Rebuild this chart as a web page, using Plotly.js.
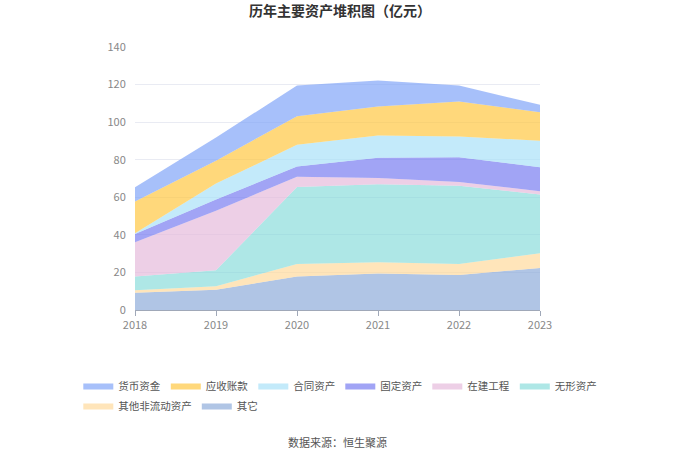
<!DOCTYPE html>
<html><head><meta charset="utf-8">
<script src="https://cdn.plot.ly/plotly-3.0.1.min.js"></script>
<style>html,body{margin:0;padding:0;background:#fff}#c{width:680px;height:460px}</style>
</head><body><div id="c"></div>
<script>
const years = ['2018','2019','2020','2021','2022','2023'];
const qita = [9.2, 10.8, 17.8, 19.4, 18.6, 22.4];
const qitaFeiLiudong = [1.3, 1.8, 6.7, 6.0, 5.9, 7.8];
const wuxing = [7.3, 8.5, 41.0, 41.6, 41.6, 31.3];
const zaijian = [18.3, 31.7, 5.4, 3.3, 2.1, 1.7];
const guding = [4.4, 6.0, 5.5, 10.7, 13.1, 12.8];
const hetong = [0.3, 8.5, 11.5, 11.9, 11.1, 14.1];
const yingshou = [17.0, 12.1, 15.3, 15.4, 18.6, 15.1];
const huobi = [7.5, 12.4, 16.3, 13.9, 8.5, 4.0];

const series = [
  ['其它', qita, 'rgba(138,169,217,0.68)', 'legend2'],
  ['其他非流动资产', qitaFeiLiudong, 'rgba(255,216,154,0.68)', 'legend2'],
  ['无形资产', wuxing, 'rgba(125,216,214,0.62)', 'legend'],
  ['在建工程', zaijian, 'rgba(229,184,218,0.68)', 'legend'],
  ['固定资产', guding, 'rgba(116,121,240,0.68)', 'legend'],
  ['合同资产', hetong, 'rgba(167,224,248,0.68)', 'legend'],
  ['应收账款', yingshou, 'rgba(255,197,61,0.68)', 'legend'],
  ['货币资金', huobi, 'rgba(126,162,248,0.68)', 'legend']
];
const traces = series.map(s => ({
  type:'scatter', mode:'lines', name:s[0], x:years, y:s[1],
  stackgroup:'one', line:{width:0, color:s[2]}, fillcolor:s[2],
  legend:s[3], hoverinfo:'x+y+name'
}));
const legFont = {size:10.5, color:'#555'};
const layout = {
  width:680, height:460,
  margin:{l:135, r:140, t:47, b:150},
  paper_bgcolor:'#fff', plot_bgcolor:'#fff',
  font:{family:'"Noto Sans CJK SC", "Noto Sans", sans-serif', color:'#666', size:11},
  title:{text:'<b>历年主要资产堆积图（亿元）</b>', x:0.5, xanchor:'center', y:0.975, yanchor:'middle', font:{size:14, color:'#333'}},
  xaxis:{range:[0,5], showgrid:false, showline:true, linecolor:'#a0a8b8',
    ticks:'outside', ticklen:5, tickcolor:'#a0a8b8', type:'category', tickfont:{color:'#888'}},
  yaxis:{range:[0,140], dtick:20, gridcolor:'#e9ebf3', zeroline:false, showline:false,
    ticks:'outside', ticklen:6, tickcolor:'rgba(0,0,0,0)', tickfont:{color:'#888'}},
  showlegend:true,
  legend:{orientation:'h', traceorder:'reversed', x:-0.14, xanchor:'left', y:-0.232, yanchor:'top', font:legFont},
  legend2:{orientation:'h', traceorder:'reversed', x:-0.14, xanchor:'left', y:-0.308, yanchor:'top', font:legFont},
  annotations:[{text:'数据来源：恒生聚源', xref:'paper', yref:'paper', x:0.5, y:-0.502, xanchor:'center', yanchor:'middle', showarrow:false, font:{size:11, color:'#555'}}]
};
Plotly.newPlot('c', traces, layout, {displayModeBar:false, staticPlot:true});
</script></body></html>
